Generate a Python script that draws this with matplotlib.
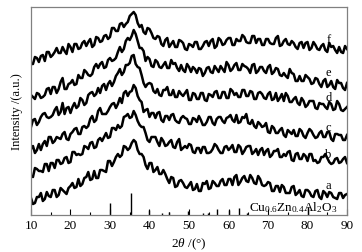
import numpy as np
import matplotlib
matplotlib.use("Agg")
import matplotlib.pyplot as plt

plt.rcParams['font.family'] = 'Liberation Serif'
plt.rcParams['mathtext.fontset'] = 'custom'
plt.rcParams['mathtext.rm'] = 'Liberation Serif'
plt.rcParams['mathtext.it'] = 'Liberation Serif:italic'

# 2theta grid, 0.5 degree step (10 ... 90)
two_theta = np.arange(161) * 0.5 + 10

# intensities (a.u., curves already stacked)
a = [17, 11, 12, 18, 18, 22, 14, 16, 23, 19,
     18, 25, 25, 18, 20, 27, 25, 23, 21, 27,
     29, 32, 27, 28, 36, 29, 31, 37, 38, 43,
     35, 36, 44, 37, 37, 45, 45, 44, 43, 54,
     54, 49, 53, 58, 61, 58, 60, 69, 68, 65,
     67, 72, 75, 73, 65, 61, 61, 58, 50, 46,
     52, 52, 43, 45, 48, 41, 41, 45, 41, 36,
     32, 38, 37, 28, 29, 34, 35, 32, 28, 27,
     30, 33, 25, 26, 31, 24, 24, 32, 31, 34,
     26, 27, 34, 32, 29, 29, 34, 36, 30, 30,
     36, 36, 30, 38, 40, 30, 33, 37, 39, 34,
     33, 40, 37, 32, 31, 39, 36, 30, 29, 30,
     33, 32, 24, 24, 29, 29, 23, 30, 28, 22,
     22, 22, 28, 29, 20, 22, 25, 19, 18, 25,
     25, 23, 19, 18, 24, 25, 18, 16, 24, 22,
     18, 23, 22, 18, 17, 16, 22, 22, 17, 20,
     21]
b = [39, 38, 47, 46, 44, 44, 43, 51, 51, 44,
     52, 52, 47, 55, 55, 51, 52, 57, 58, 52,
     53, 63, 63, 60, 61, 60, 61, 69, 68, 66,
     72, 73, 67, 68, 75, 77, 74, 78, 82, 77,
     78, 87, 87, 85, 90, 87, 89, 98, 99, 101,
     97, 98, 104, 100, 94, 90, 88, 88, 82, 75,
     73, 78, 78, 78, 73, 69, 77, 74, 69, 70,
     73, 75, 68, 67, 73, 76, 65, 67, 69, 67,
     71, 70, 63, 62, 67, 67, 62, 68, 68, 62,
     62, 63, 66, 71, 69, 65, 62, 62, 68, 69,
     65, 67, 70, 63, 63, 70, 68, 61, 64, 68,
     69, 69, 61, 63, 66, 60, 65, 67, 60, 64,
     66, 58, 60, 64, 64, 66, 58, 58, 61, 59,
     63, 64, 55, 54, 61, 62, 56, 56, 61, 59,
     54, 61, 61, 54, 55, 52, 53, 58, 58, 61,
     57, 53, 51, 52, 56, 57, 52, 53, 56, 58,
     52]
c = [66, 69, 62, 65, 71, 65, 71, 74, 69, 78,
     78, 72, 74, 78, 77, 76, 81, 83, 76, 75,
     81, 83, 86, 87, 81, 81, 88, 89, 87, 89,
     96, 99, 93, 95, 104, 107, 101, 101, 101, 104,
     108, 111, 112, 107, 111, 117, 112, 122, 124, 119,
     123, 124, 130, 127, 119, 115, 113, 103, 105, 106,
     98, 102, 102, 97, 102, 103, 95, 93, 99, 99,
     95, 100, 101, 95, 93, 92, 97, 99, 97, 96,
     91, 91, 97, 96, 93, 99, 95, 90, 90, 93,
     98, 98, 92, 90, 96, 98, 98, 94, 92, 97,
     98, 100, 95, 93, 100, 92, 93, 98, 97, 101,
     92, 91, 95, 89, 87, 93, 91, 88, 89, 92,
     83, 82, 89, 87, 82, 82, 85, 87, 80, 78,
     85, 83, 81, 85, 79, 79, 86, 84, 79, 77,
     82, 86, 84, 80, 77, 78, 82, 84, 78, 78,
     83, 83, 76, 74, 81, 81, 80, 80, 75, 75,
     80]
d = [88, 95, 96, 90, 93, 98, 101, 102, 98, 97,
     98, 100, 105, 108, 100, 103, 112, 101, 107, 108,
     102, 108, 112, 107, 109, 117, 115, 110, 112, 120,
     122, 123, 119, 121, 127, 122, 129, 131, 125, 131,
     134, 129, 133, 139, 142, 146, 140, 143, 150, 150,
     152, 159, 160, 151, 148, 147, 140, 132, 128, 131,
     132, 131, 124, 122, 126, 120, 119, 125, 125, 128,
     120, 120, 125, 118, 118, 124, 121, 119, 122, 125,
     115, 115, 122, 121, 116, 116, 122, 122, 115, 114,
     121, 120, 118, 123, 124, 117, 117, 123, 123, 117,
     117, 126, 124, 120, 122, 118, 118, 125, 125, 119,
     119, 124, 123, 116, 116, 122, 123, 121, 117, 116,
     121, 123, 115, 116, 122, 114, 117, 121, 114, 122,
     119, 113, 113, 116, 118, 112, 110, 117, 114, 108,
     110, 114, 114, 114, 107, 106, 112, 111, 111, 108,
     106, 113, 111, 105, 106, 114, 111, 105, 104, 106,
     108]
e = [120, 118, 116, 122, 121, 117, 118, 120, 126, 127,
     121, 128, 128, 122, 126, 133, 137, 126, 126, 131,
     132, 135, 130, 131, 140, 137, 137, 145, 143, 140,
     139, 141, 148, 151, 147, 151, 153, 147, 148, 155,
     157, 154, 155, 157, 163, 168, 163, 166, 174, 177,
     175, 179, 185, 181, 174, 167, 167, 164, 154, 158,
     156, 149, 148, 155, 153, 148, 147, 150, 153, 147,
     147, 155, 151, 152, 147, 144, 150, 145, 143, 151,
     148, 143, 148, 146, 142, 147, 146, 139, 142, 147,
     148, 143, 142, 149, 146, 143, 149, 146, 143, 153,
     150, 144, 146, 150, 152, 145, 145, 151, 149, 148,
     146, 142, 150, 151, 142, 144, 148, 148, 144, 142,
     148, 150, 141, 143, 147, 146, 140, 139, 142, 139,
     137, 146, 142, 141, 134, 134, 139, 134, 134, 140,
     138, 136, 131, 132, 137, 136, 131, 128, 134, 136,
     128, 130, 134, 128, 126, 135, 132, 132, 127, 125,
     132]
f = [151, 151, 158, 157, 153, 159, 160, 154, 163, 163,
     158, 160, 163, 167, 162, 162, 168, 164, 161, 171,
     168, 163, 171, 171, 166, 167, 172, 174, 169, 173,
     176, 168, 170, 178, 177, 173, 174, 179, 180, 176,
     178, 187, 187, 184, 184, 191, 192, 188, 191, 193,
     199, 201, 203, 200, 192, 188, 190, 183, 181, 187,
     186, 182, 177, 176, 179, 178, 171, 169, 175, 177,
     168, 171, 174, 168, 168, 175, 174, 172, 166, 165,
     171, 170, 168, 173, 173, 166, 166, 169, 173, 174,
     169, 174, 176, 167, 169, 177, 175, 170, 171, 175,
     177, 177, 170, 170, 176, 174, 174, 180, 178, 173,
     172, 172, 179, 179, 172, 176, 176, 170, 170, 176,
     176, 172, 171, 171, 177, 179, 169, 170, 174, 176,
     171, 170, 174, 172, 168, 166, 172, 173, 167, 172,
     173, 165, 167, 173, 170, 166, 165, 169, 171, 165,
     163, 172, 168, 169, 165, 162, 168, 163, 162, 169,
     166]
curves = [a, b, c, d, e, f]
names = ['a', 'b', 'c', 'd', 'e', 'f']
label_y = [30, 61, 88, 118, 143, 176]

# reference pattern (stick positions and heights)
ref_pos = [30.0, 35.3, 39.9, 43.2, 45.0, 49.8, 53.6, 54.9, 57.2, 60.0, 62.7, 64.8, 80.0]
ref_h = [12, 22, 5, 2, 3, 4, 2, 2, 6, 5, 7, 2, 8]

fig = plt.figure(figsize=(3.62, 2.53), dpi=100)
ax = fig.add_axes([0.0856, 0.1462, 0.873, 0.8222])

for y in curves:
    ax.plot(two_theta, y, color='#444444', lw=0.5)
    ax.plot(two_theta, y, color='k', lw=1.8)
for name, ly in zip(names, label_y):
    ax.text(85.3, ly, name, ha='center', va='center', fontsize=9)

ax.vlines(ref_pos, 0, ref_h, color='k', lw=1.0)
ax.text(65.2, 1.5, r'Cu$_{0.6}$Zn$_{0.4}$Al$_2$O$_3$', fontsize=9.5,
        ha='left', va='bottom')

ax.set_xlim(10, 90)
ax.set_ylim(0, 208)
ax.set_xticks(np.arange(10, 91, 10))
ax.set_xticks(np.arange(15, 90, 10), minor=True)
ax.set_yticks([])
ax.tick_params(axis='x', direction='in', length=4, width=0.8, labelsize=9.5, pad=3)
ax.tick_params(axis='x', which='minor', direction='in', length=2, width=0.8)
for s in ax.spines.values():
    s.set_color('#808080')
    s.set_linewidth(0.9)

ax.set_xlabel(r'$2\theta$ /(°)', fontsize=9.5, labelpad=3)
ax.set_ylabel('Intensity /(a.u.)', fontsize=9, labelpad=6)

fig.savefig('out.png', dpi=100)
